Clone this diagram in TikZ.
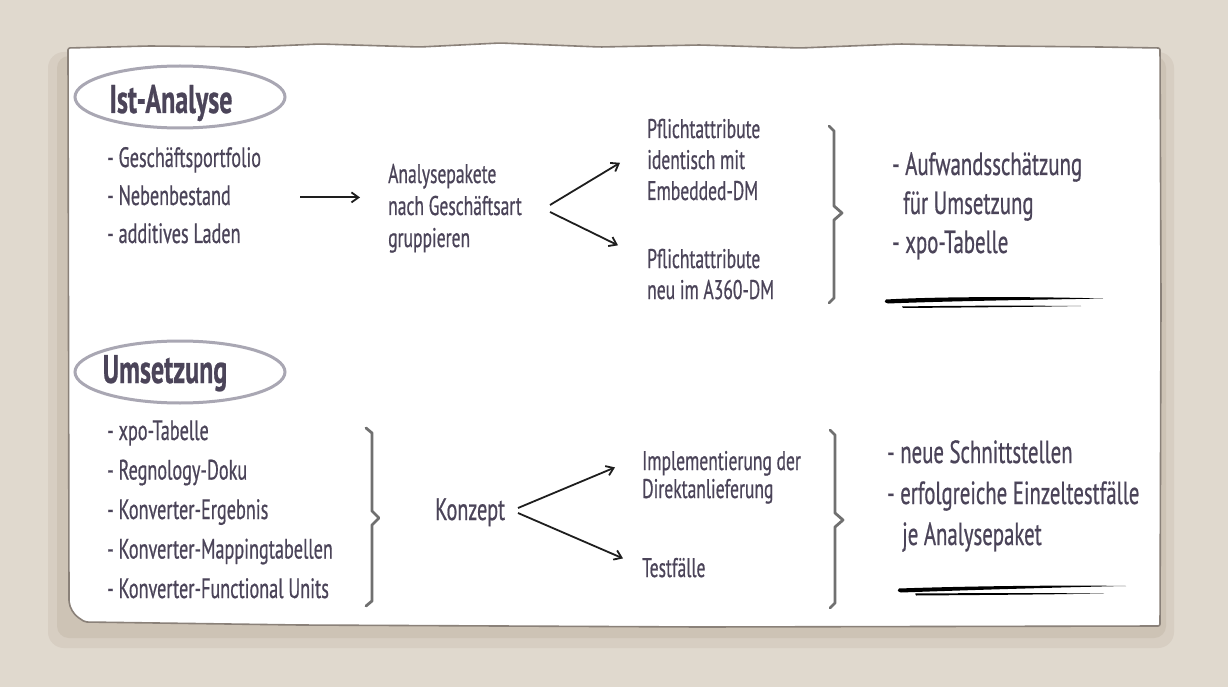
\documentclass[tikz,border=0pt]{standalone}
\usepackage{fontspec}
\setmainfont{PT Sans}[FakeStretch=0.65, FakeBold=0.6]
\usetikzlibrary{arrows.meta}
\definecolor{bgc}{HTML}{E0D9CE}
\definecolor{shadowa}{HTML}{D7CEC2}
\definecolor{shadowb}{HTML}{CDC3B5}
\definecolor{edgec}{HTML}{8A8179}
\definecolor{ink}{HTML}{4B4459}
\definecolor{ovalc}{HTML}{A9A7B3}
\definecolor{bracec}{HTML}{707070}
\definecolor{arrc}{HTML}{1E1E1E}
\newcommand\mylines[1]{\begin{tabular}[t]{@{}l@{}}#1\end{tabular}}
\begin{document}
\begin{tikzpicture}[x=1pt,y=-1pt,
  txt/.style={text=ink, inner sep=0pt, anchor=base west},
  title/.style={text=ink, inner sep=0pt, anchor=base, font=\fontsize{40}{44}\selectfont\bfseries},
  oval/.style={draw=ovalc, line width=3pt},
  arr/.style={draw=arrc, line width=1.8pt, -{Straight Barb[length=7pt,width=10pt,line width=1.8pt]}},
  bracket/.style={draw=bracec, line width=2.8pt, line join=round, line cap=round},
  uline/.style={fill=black}]
\fill[bgc] (0,0) rectangle (1228,687);
\useasboundingbox (0,0) rectangle (1228,687);
% shadow
\fill[shadowa, rounded corners=16pt] (48,52) rectangle (1174,648);
\fill[shadowb, rounded corners=12pt] (57,56) rectangle (1166,638);
% paper
\filldraw[fill=white, draw=edgec, line width=1.6pt, rounded corners=2pt]
  (69,600) -- (68,48) -- (150,46) -- (250,47) -- (320,44) -- (420,47) -- (500,43) -- (600,47)
  -- (700,45) -- (800,48) -- (900,44) -- (1000,46) -- (1100,47) -- (1160,48)
  -- (1161,300) -- (1160,626) -- (700,627) -- (300,625) -- (85,622)
  [rounded corners=10pt] -- (70,612) -- (69,600);

% ---------- Ist-Analyse ----------
\draw[oval] (180,97) ellipse [x radius=105, y radius=31];
\node[title] (ist) at (171,113) {Ist-Analyse};
\node[txt, font=\fontsize{28}{38}\selectfont] (istlist) at (107,167)
  {\mylines{- Geschäftsportfolio\\- Nebenbestand\\- additives Laden}};
\node[txt, font=\fontsize{27}{32}\selectfont] (ana) at (388,183)
  {\mylines{Analysepakete\\nach Geschäftsart\\gruppieren}};
\draw[arr] ([xshift=-88pt]istlist.east -| ana.west) -- ([xshift=-28pt]istlist.east -| ana.west);
\node[txt, font=\fontsize{27}{31}\selectfont] (p1) at (647,138)
  {\mylines{Pflichtattribute\\identisch mit\\Embedded-DM}};
\node[txt, font=\fontsize{27}{31}\selectfont] (p2) at (647,268)
  {\mylines{Pflichtattribute\\neu im A360-DM}};
\coordinate (fka) at (550,205);
\coordinate (fkb) at (550,212);
\draw[arr] (fka) -- ([shift={(-27,0)}]p1.west);
\draw[arr] (fkb) -- ([shift={(-29,-32)}]p2.west);
\draw[bracket] (829,126) -- (834,131) -- (834,206) -- (842,213) -- (834,220) -- (834,298) -- (829,303);
\node[txt, font=\fontsize{32}{39}\selectfont] (res1) at (892,175)
  {\mylines{- Aufwandsschätzung\\\hspace{11pt}für Umsetzung\\- xpo-Tabelle}};
\fill[uline] (886,299.5) .. controls (950,296) and (1050,297) .. (1103,298.5)
  .. controls (1050,299.5) and (950,301) .. (888,303.5) .. controls (884,302.5) and (884,300.5) .. (886,299.5) -- cycle;
\fill[uline] (902,306.5) .. controls (960,305.5) and (1030,305.5) .. (1081,306)
  .. controls (1030,307) and (960,307.5) .. (903,308) -- cycle;

% ---------- Umsetzung ----------
\draw[oval] (180,372) ellipse [x radius=105, y radius=31];
\node[title] (ums) at (165,383) {Umsetzung};
\node[txt, font=\fontsize{28}{39.5}\selectfont] (umslist) at (107,440)
  {\mylines{- xpo-Tabelle\\- Regnology-Doku\\- Konverter-Ergebnis\\- Konverter-Mappingtabellen\\- Konverter-Functional Units}};
\draw[bracket] (366,428) -- (372,433) -- (372,511) -- (379,518) -- (372,525) -- (372,601) -- (366,606);
\node[txt, font=\fontsize{31}{34}\selectfont] (konz) at (435,520) {Konzept};
\node[txt, font=\fontsize{27}{28}\selectfont] (impl) at (642,470)
  {\mylines{Implementierung der\\Direktanlieferung}};
\node[txt, font=\fontsize{27}{28}\selectfont] (test) at (642,577) {\mylines{Testfälle}};
\coordinate (fkc) at (518,508);
\coordinate (fkd) at (518,513);
\draw[arr] (fkc) -- ([shift={(-27,-11)}]impl.west);
\draw[arr] (fkd) -- ([shift={(-19,-13)}]test.west);
\draw[bracket] (830,430) -- (835,435) -- (835,513) -- (843,520) -- (835,527) -- (835,603) -- (830,608);
\node[txt, font=\fontsize{32}{41}\selectfont] (res2) at (887,463)
  {\mylines{- neue Schnittstellen\\- erfolgreiche Einzeltestfälle\\\hspace{15pt}je Analysepaket}};
\fill[uline] (899,588.5) .. controls (970,586) and (1070,585) .. (1126,586)
  .. controls (1070,587) and (970,590) .. (901,592.5) .. controls (897,591.5) and (897,589.5) .. (899,588.5) -- cycle;
\fill[uline] (915,593.5) .. controls (980,593) and (1050,593) .. (1104,593.5)
  .. controls (1050,594.5) and (980,595) .. (916,595.5) -- cycle;
\end{tikzpicture}
\end{document}
